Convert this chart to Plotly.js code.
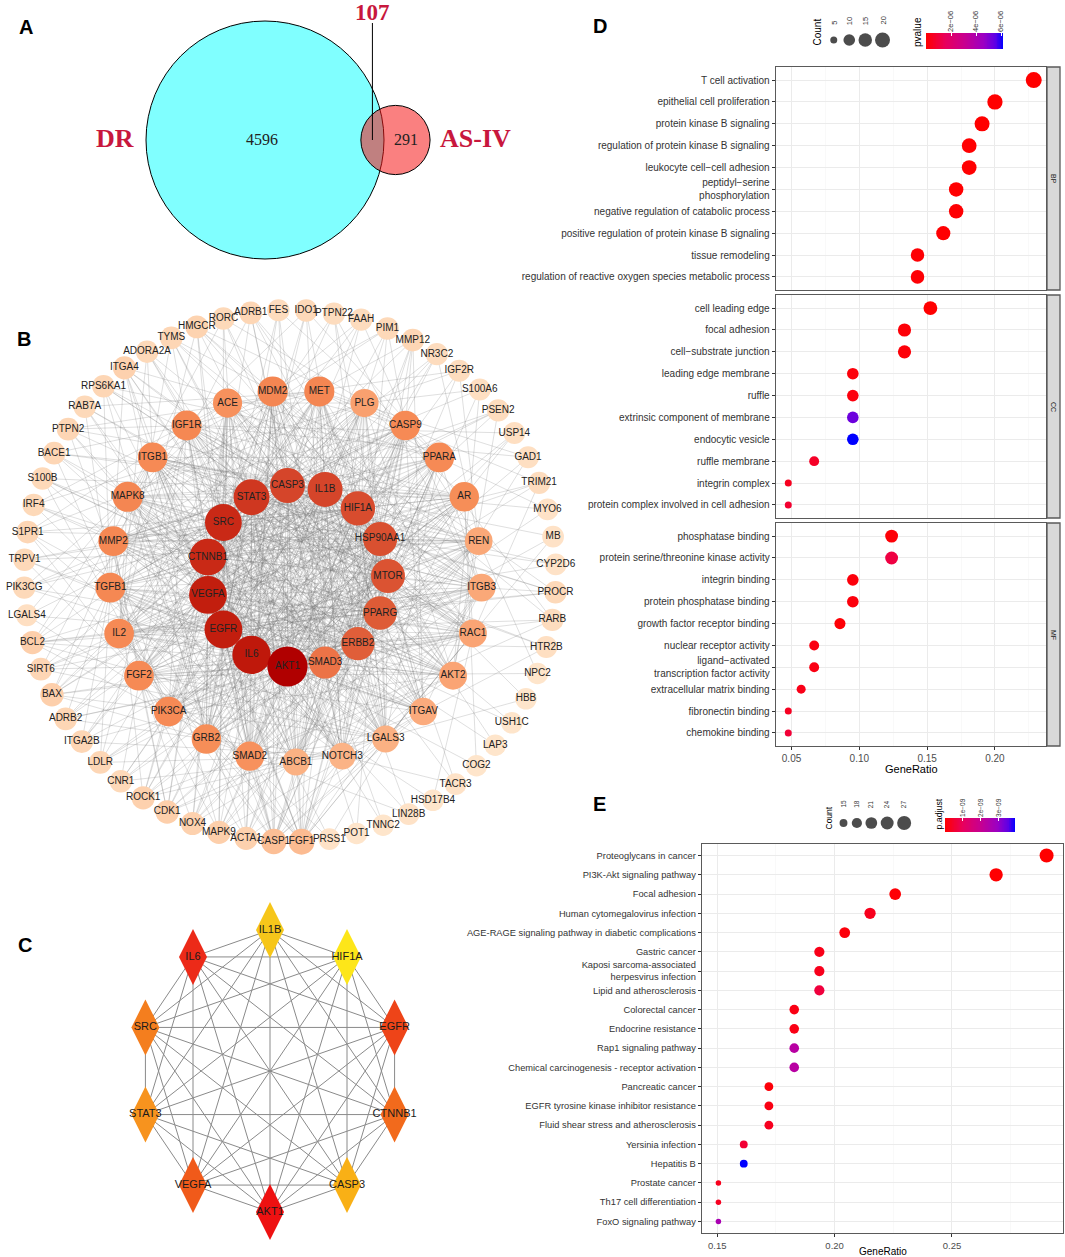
<!DOCTYPE html>
<html><head><meta charset="utf-8">
<script src="https://cdn.plot.ly/plotly-3.0.1.min.js"></script>
<style>html,body{margin:0;padding:0;background:#fff}#chart{width:1065px;height:1257px}</style>
</head><body><div id="chart"></div><script>
// ================= DATA =================
// Panel A – Venn diagram counts
const vennSets = ['DR', 'AS-IV'];
const vennOnly = [4596, 291];
const vennShared = 107;

// Panel B – PPI network: genes on three rings and their degree
const innerGenes = ['CASP3','IL1B','HIF1A','HSP90AA1','MTOR','PPARG','ERBB2','SMAD3','AKT1','IL6','EGFR','VEGFA','CTNNB1','SRC','STAT3'];
const innerDegree = [58,58,56,55,54,52,51,46,80,72,70,70,66,66,62];
const middleGenes = ['MET','PLG','CASP9','PPARA','AR','REN','ITGB3','RAC1','AKT2','ITGAV','LGALS3','NOTCH3','ABCB1','SMAD2','GRB2','PIK3CA','FGF2','IL2','TGFB1','MMP2','MAPK8','ITGB1','IGF1R','ACE','MDM2'];
const middleDegree = [38,30,36,36,35,28,28,29,29,27,25,24,25,34,35,36,36,36,37,37,38,36,37,34,38];
const outerGenes = ['ADRB1','FES','IDO1','PTPN22','FAAH','PIM1','MMP12','NR3C2','IGF2R','S100A6','PSEN2','USP14','GAD1','TRIM21','MYO6','MB','CYP2D6','PROCR','RARB','HTR2B','NPC2','HBB','USH1C','LAP3','COG2','TACR3','HSD17B4','LIN28B','TNNC2','POT1','PRSS1','FGF1','CASP1','ACTA1','MAPK9','NOX4','CDK1','ROCK1','CNR1','LDLR','ITGA2B','ADRB2','BAX','SIRT6','BCL2','LGALS4','PIK3CG','TRPV1','S1PR1','IRF4','S100B','BACE1','PTPN2','RAB7A','RPS6KA1','ITGA4','ADORA2A','TYMS','HMGCR','RORC'];
const outerDegree = [7,5,6,5,5,6,7,5,5,4,5,4,4,5,3,3,3,6,5,4,2,2,2,2,2,3,2,3,2,2,3,20,18,9,10,9,10,9,6,7,7,7,10,7,10,4,6,6,7,6,6,7,7,6,7,9,6,7,8,6];

// Panel C – hub genes and their rank (1 = top)
const hubGenes = ['IL1B','HIF1A','EGFR','CTNNB1','CASP3','AKT1','VEGFA','STAT3','SRC','IL6'];
const hubRank  = [9,10,3,5,8,1,4,7,6,2];

// Panel D – GO enrichment
const bpTerms = ['T cell activation','epithelial cell proliferation','protein kinase B signaling','regulation of protein kinase B signaling','leukocyte cell\u2212cell adhesion','peptidyl\u2212serine<br>phosphorylation','negative regulation of catabolic process','positive regulation of protein kinase B signaling','tissue remodeling','regulation of reactive oxygen species metabolic process'];
const bpRatio = [0.2286,0.2000,0.1905,0.1810,0.1810,0.1714,0.1714,0.1619,0.1429,0.1429];
const bpCount = [24,21,20,19,19,18,18,17,15,15];
const bpP     = [1.2e-10,3.5e-9,2.1e-9,8.7e-9,2.4e-8,1.6e-8,4.5e-8,2.8e-8,6.3e-8,9.1e-8];
const ccTerms = ['cell leading edge','focal adhesion','cell\u2212substrate junction','leading edge membrane','ruffle','extrinsic component of membrane','endocytic vesicle','ruffle membrane','integrin complex','protein complex involved in cell adhesion'];
const ccRatio = [0.1524,0.1333,0.1333,0.0952,0.0952,0.0952,0.0952,0.0667,0.0476,0.0476];
const ccCount = [16,14,14,10,10,10,10,7,5,5];
const ccP     = [2.0e-8,1.3e-7,1.4e-7,1.7e-7,2.2e-7,5.3e-6,6.16e-6,6.5e-7,5.2e-7,8.0e-7];
const mfTerms = ['phosphatase binding','protein serine/threonine kinase activity','integrin binding','protein phosphatase binding','growth factor receptor binding','nuclear receptor activity','ligand\u2212activated<br>transcription factor activity','extracellular matrix binding','fibronectin binding','chemokine binding'];
const mfRatio = [0.1238,0.1238,0.0952,0.0952,0.0857,0.0667,0.0667,0.0571,0.0476,0.0476];
const mfCount = [13,13,10,10,9,7,7,6,5,5];
const mfP     = [1.1e-7,1.1e-6,1.9e-7,2.0e-7,9.5e-8,3.2e-7,3.2e-7,4.0e-7,5.5e-7,9.0e-7];
const goFacets = ['BP','CC','MF'];
const dCountBreaks = [5,10,15,20];
const dPBreaks = [2e-6,4e-6,6e-6];
const dPBreakLabels = ['2e\u221206','4e\u221206','6e\u221206'];

// Panel E – KEGG enrichment
const keggTerms = ['Proteoglycans in cancer','PI3K-Akt signaling pathway','Focal adhesion','Human cytomegalovirus infection','AGE-RAGE signaling pathway in diabetic complications','Gastric cancer','Kaposi sarcoma-associated<br>herpesvirus infection','Lipid and atherosclerosis','Colorectal cancer','Endocrine resistance','Rap1 signaling pathway','Chemical carcinogenesis - receptor activation','Pancreatic cancer','EGFR tyrosine kinase inhibitor resistance','Fluid shear stress and atherosclerosis','Yersinia infection','Hepatitis B','Prostate cancer','Th17 cell differentiation','FoxO signaling pathway'];
const keggRatio = [0.2903,0.2688,0.2258,0.2151,0.2043,0.1935,0.1935,0.1935,0.1828,0.1828,0.1828,0.1828,0.1720,0.1720,0.1720,0.1613,0.1613,0.1505,0.1505,0.1505];
const keggCount = [27,25,21,20,19,18,18,18,17,17,17,17,16,16,16,15,15,14,14,14];
const keggPadj  = [1.5e-12,8e-12,6e-11,3.1e-10,1.2e-10,2.6e-10,3.0e-10,6.5e-10,2.0e-10,2.2e-10,2.3e-9,2.3e-9,1.0e-10,2.0e-10,3.3e-10,5.5e-10,3.9e-9,3.0e-10,3.4e-10,2.6e-9];
const eCountBreaks = [15,18,21,24,27];
const ePBreaks = [1e-9,2e-9,3e-9];
const ePBreakLabels = ['1e\u221209','2e\u221209','3e\u221209'];

// ================= LAYOUT HELPERS =================
const W = 1065, H = 1257;
const px = v => v / W, py = v => 1 - v / H;
const domX = (a, b) => [a / W, b / W];
const domY = (top, bottom) => [1 - bottom / H, 1 - top / H];
const FONT = 'Liberation Sans, Arial, Helvetica, sans-serif';
const SERIF = 'Liberation Serif, Times New Roman, serif';
const traces = [], shapes = [], annotations = [];
function ann(x, y, text, o) {
  annotations.push(Object.assign({xref:'paper', yref:'paper', x:px(x), y:py(y), text, showarrow:false,
    xanchor:'center', yanchor:'middle', font:{family:FONT, size:10, color:'#000'}}, o || {}));
}

// ---------- Panel letters ----------
[['A',26,27],['B',24,339],['C',25,945],['D',600,26],['E',599,804]].forEach(([t,x,y]) =>
  ann(x, y, '<b>'+t+'</b>', {font:{family:FONT, size:20, color:'#000'}}));

// ---------- Panel A: Venn ----------
const totA = vennOnly[0] + vennShared, totB = vennOnly[1] + vennShared;
const kV = 119 / Math.sqrt(totA);
const r1 = kV * Math.sqrt(totA), r2 = kV * Math.sqrt(totB);
function lens(d) {
  const a1 = r1*r1*Math.acos((d*d + r1*r1 - r2*r2) / (2*d*r1));
  const a2 = r2*r2*Math.acos((d*d + r2*r2 - r1*r1) / (2*d*r2));
  const a3 = 0.5*Math.sqrt((-d+r1+r2)*(d+r1-r2)*(d-r1+r2)*(d+r1+r2));
  return a1 + a2 - a3;
}
const target = vennShared * Math.PI * kV * kV;
let lo = r1 - r2 + 0.01, hi = r1 + r2 - 0.01;
for (let i = 0; i < 60; i++) { const m = (lo + hi) / 2; if (lens(m) > target) lo = m; else hi = m; }
const dV = (lo + hi) / 2;
const c1 = [265, 140], c2 = [265 + dV, 140];
shapes.push({type:'circle', xref:'x', yref:'y', x0:c1[0]-r1, x1:c1[0]+r1, y0:c1[1]-r1, y1:c1[1]+r1,
  fillcolor:'#80ffff', line:{color:'#000', width:1}, layer:'below'});
shapes.push({type:'circle', xref:'x', yref:'y', x0:c2[0]-r2, x1:c2[0]+r2, y0:c2[1]-r2, y1:c2[1]+r2,
  fillcolor:'rgba(246,20,20,0.54)', line:{color:'#000', width:1}, layer:'below'});
const lensX = ((c1[0] + r1) + (c2[0] - r2)) / 2;
shapes.push({type:'line', xref:'x', yref:'y', x0:lensX, x1:lensX, y0:23, y1:c1[1], line:{color:'#000', width:1}});
const vennRed = '#c8173d';
ann(lensX, 13, '<b>' + vennShared + '</b>', {font:{family:SERIF, size:23, color:vennRed}});
ann(c1[0] - r1 - 10, c1[1] - 1, '<b>' + vennSets[0] + '</b>', {xanchor:'right', font:{family:SERIF, size:26, color:vennRed}});
ann(c2[0] + r2 + 8, c2[1] - 1, '<b>' + vennSets[1] + '</b>', {xanchor:'left', font:{family:SERIF, size:26, color:vennRed}});
ann(c1[0] - 3, c1[1], String(vennOnly[0]), {font:{family:SERIF, size:16, color:'#222'}});
ann(((c1[0] + r1) + (c2[0] + r2)) / 2 - 1, c2[1], String(vennOnly[1]), {font:{family:SERIF, size:16, color:'#222'}});

// ---------- Panel B: network ----------
function ring(n, cx, cy, r, startDeg) {
  return Array.from({length:n}, (_, i) => {
    const t = (startDeg + i * 360 / n) * Math.PI / 180;
    return [cx + r * Math.sin(t), cy - r * Math.cos(t)];
  });
}
const pIn = ring(innerGenes.length, 297, 576, 91, -6);
const pMid = ring(middleGenes.length, 296, 576, 186, 7.2);
const pOut = ring(outerGenes.length, 290, 576, 266, -8.5);
const core = pIn.concat(pMid);
const edges = [];
for (let i = 0; i < pIn.length; i++) for (let j = i + 1; j < pIn.length; j++) edges.push([pIn[i], pIn[j]]);
for (let i = 0; i < pIn.length; i++) for (let j = 0; j < pMid.length; j++) edges.push([pIn[i], pMid[j]]);
for (let j = 0; j < pMid.length; j++) [3, 7, 11].forEach(s => edges.push([pMid[j], pMid[(j + s) % pMid.length]]));
for (let k = 0; k < pOut.length; k++) for (let m = 0; m < outerDegree[k]; m++) edges.push([pOut[k], core[(7 * k + 11 * m) % core.length]]);
const ex = [], ey = [];
edges.forEach(([a, b]) => { ex.push(a[0], b[0], null); ey.push(a[1], b[1], null); });
traces.push({type:'scatter', mode:'lines', x:ex, y:ey, xaxis:'x', yaxis:'y', hoverinfo:'skip',
  line:{color:'rgba(115,115,115,0.33)', width:0.7}});
const degMax = Math.max(...innerDegree);
const DEGCS = [[0,'#fee8d0'],[0.09,'#fdd3b0'],[0.32,'#fbae80'],[0.44,'#f68b55'],[0.57,'#ec7347'],[0.63,'#e05f39'],[0.72,'#d5452a'],[0.82,'#c92a16'],[0.89,'#c01a0c'],[1,'#b00000']];
const allPos = pOut.concat(pMid, pIn);
const allNames = outerGenes.concat(middleGenes, innerGenes);
const allDeg = outerDegree.concat(middleDegree, innerDegree);
// draw AKT1 last so it sits on top
const order = allNames.map((_, i) => i);
const akt = allNames.indexOf('AKT1'); order.splice(order.indexOf(akt), 1); order.push(akt);
traces.push({type:'scatter', mode:'markers+text', xaxis:'x', yaxis:'y', hoverinfo:'skip',
  x: order.map(i => allPos[i][0]), y: order.map(i => allPos[i][1]), text: order.map(i => allNames[i]),
  textposition:'middle center', textfont:{family:FONT, size:10, color:'#222'},
  marker:{size: order.map(i => 21 + 0.24 * allDeg[i]), color: order.map(i => allDeg[i]),
    colorscale:DEGCS, cmin:1, cmax:degMax, line:{width:0}, opacity:1}});

// ---------- Panel C: hub network ----------
const pHub = hubGenes.map((_, i) => {
  const t = i * 360 / hubGenes.length * Math.PI / 180;
  return [270 + 131 * Math.sin(t), 1071 - 141 * Math.cos(t)];
});
const hx = [], hy = [];
for (let i = 0; i < pHub.length; i++) for (let j = i + 1; j < pHub.length; j++) {
  hx.push(pHub[i][0], pHub[j][0], null); hy.push(pHub[i][1], pHub[j][1], null);
}
traces.push({type:'scatter', mode:'lines', x:hx, y:hy, xaxis:'x', yaxis:'y', hoverinfo:'skip',
  line:{color:'#8a8a8a', width:1}});
const HUBCS = [[0,'#ee1111'],[0.111,'#ec2a18'],[0.222,'#ee4418'],[0.333,'#f05a1a'],[0.444,'#f26a1c'],[0.556,'#f47e1e'],[0.667,'#f7931e'],[0.778,'#f9b016'],[0.889,'#f6c61a'],[1,'#fde619']];
traces.push({type:'scatter', mode:'markers+text', xaxis:'x', yaxis:'y', hoverinfo:'skip',
  x:pHub.map(p => p[0]), y:pHub.map(p => p[1]), text:hubGenes, textposition:'middle center',
  textfont:{family:FONT, size:11, color:'#1a1a1a'},
  marker:{symbol:'diamond-tall', size:40, color:hubRank, colorscale:HUBCS, cmin:1, cmax:hubGenes.length, line:{width:0}}});

// ---------- Dot-plot helpers ----------
const PCS = [[0,'#ff0000'],[0.25,'#e8005c'],[0.5,'#c8008f'],[0.75,'#9a00c4'],[0.9,'#5c00e6'],[1,'#0000ff']];
function sizeFn(counts, dMin, dSpan) {
  const mn = Math.min(...counts), mx = Math.max(...counts);
  return c => dMin + dSpan * Math.sqrt(Math.max(0, (c - mn) / (mx - mn)));
}
function expandRange(vals) {
  const mn = Math.min(...vals), mx = Math.max(...vals), s = mx - mn;
  return [mn - 0.05 * s, mx + 0.05 * s];
}
const axisLine = '#5a5a5a';
function xAx(dom, anchor, range, showLabels, tickSize) {
  return {domain:dom, anchor, range, tickmode:'linear', tick0:0, dtick:0.05, tickformat:'.2f',
    showgrid:true, gridcolor:'#ebebeb', gridwidth:1, zeroline:false,
    minor:{dtick:0.025, showgrid:true, gridcolor:'#f5f5f5', gridwidth:0.6},
    showline:true, mirror:true, linecolor:axisLine, linewidth:1.3,
    ticks: showLabels ? 'outside' : '', ticklen:3, tickcolor:'#333', showticklabels:showLabels,
    tickfont:{family:FONT, size:tickSize, color:'#4d4d4d'}};
}
function yAx(dom, anchor, cats, fontSize) {
  return {domain:dom, anchor, type:'category', categoryorder:'array', categoryarray:cats,
    range:[cats.length - 1 + 0.6, -0.6], showgrid:true, gridcolor:'#ebebeb', gridwidth:1, zeroline:false,
    showline:true, mirror:true, linecolor:axisLine, linewidth:1.3, ticks:'outside', ticklen:3, tickcolor:'#333',
    tickfont:{family:FONT, size:fontSize, color:'#333'}};
}

// ---------- Panel D ----------
const dAllRatio = bpRatio.concat(ccRatio, mfRatio);
const dAllCount = bpCount.concat(ccCount, mfCount);
const dAllP = bpP.concat(ccP, mfP);
const dRange = expandRange(dAllRatio);
const dSize = sizeFn(dAllCount, 7, 9);
const dPmin = Math.min(...dAllP), dPmax = Math.max(...dAllP);
const dFacetPx = [[67, 290], [295, 518], [523, 746]];
const dSets = [[bpTerms, bpRatio, bpCount, bpP], [ccTerms, ccRatio, ccCount, ccP], [mfTerms, mfRatio, mfCount, mfP]];
const layoutAxes = {};
dSets.forEach((s, k) => {
  const n = k + 2;
  layoutAxes['xaxis' + n] = xAx(domX(776, 1046), 'y' + n, dRange, k === 2, 10);
  layoutAxes['yaxis' + n] = yAx(domY(dFacetPx[k][0], dFacetPx[k][1]), 'x' + n, s[0], 10);
  traces.push({type:'scatter', mode:'markers', xaxis:'x' + n, yaxis:'y' + n, x:s[1], y:s[0], hoverinfo:'skip',
    marker:{size:s[2].map(dSize), color:s[3], colorscale:PCS, cmin:dPmin, cmax:dPmax, line:{width:0}, opacity:1}});
  shapes.push({type:'rect', xref:'paper', yref:'paper', x0:px(1047), x1:px(1060),
    y0:py(dFacetPx[k][1]), y1:py(dFacetPx[k][0]), fillcolor:'#d9d9d9', line:{color:axisLine, width:1.3}});
  ann(1053.5, (dFacetPx[k][0] + dFacetPx[k][1]) / 2, goFacets[k], {textangle:90, font:{family:FONT, size:7, color:'#1a1a1a'}});
});
ann(911, 769, 'GeneRatio', {font:{family:FONT, size:11, color:'#000'}});

// D legends
function countLegend(breaks, sizeF, startX, minKey, pad) {
  let cur = startX; const xs = [];
  breaks.forEach(b => { const w = Math.max(minKey, sizeF(b) + pad); xs.push(cur + w / 2); cur += w; });
  return xs;
}
const dLegX = countLegend(dCountBreaks, dSize, 826, 15.5, 3);
traces.push({type:'scatter', mode:'markers', xaxis:'x', yaxis:'y', hoverinfo:'skip',
  x:dLegX, y:dCountBreaks.map(() => 40), marker:{size:dCountBreaks.map(dSize), color:'#000', line:{width:0}}});
dCountBreaks.forEach((b, i) => ann(dLegX[i], 27, String(b), {textangle:-90, yanchor:'bottom', font:{family:FONT, size:7.5, color:'#333'}}));
ann(817, 48, 'Count', {textangle:-90, yanchor:'bottom', font:{family:FONT, size:10, color:'#000'}});
ann(917, 49, 'pvalue', {textangle:-90, yanchor:'bottom', font:{family:FONT, size:10, color:'#000'}});
function gradient(xa, ya, vmin, vmax) {
  const g = []; for (let i = 0; i <= 100; i++) g.push(vmin + (vmax - vmin) * i / 100);
  traces.push({type:'heatmap', xaxis:xa, yaxis:ya, x:g, y:[0], z:[g], zmin:vmin, zmax:vmax, colorscale:PCS,
    showscale:false, hoverinfo:'skip'});
}
gradient('x6', 'y6', dPmin, dPmax);
layoutAxes.xaxis6 = {domain:domX(926, 1003), anchor:'y6', range:[dPmin, dPmax], side:'top', tickmode:'array',
  tickvals:dPBreaks, ticktext:dPBreakLabels, tickangle:-90, ticks:'inside', ticklen:3, tickcolor:'#fff', tickwidth:1,
  showgrid:false, zeroline:false, showline:false, tickfont:{family:FONT, size:7.5, color:'#333'}};
layoutAxes.yaxis6 = {domain:domY(33, 49), anchor:'x6', range:[-0.5, 0.5], visible:false};

// ---------- Panel E ----------
const eRange = expandRange(keggRatio);
const eSize = sizeFn(keggCount, 5.5, 8.5);
const ePmin = Math.min(...keggPadj), ePmax = Math.max(...keggPadj);
layoutAxes.xaxis5 = xAx(domX(702, 1063), 'y5', eRange, true, 9.5);
layoutAxes.yaxis5 = yAx(domY(844, 1233), 'x5', keggTerms, 9.3);
traces.push({type:'scatter', mode:'markers', xaxis:'x5', yaxis:'y5', x:keggRatio, y:keggTerms, hoverinfo:'skip',
  marker:{size:keggCount.map(eSize), color:keggPadj, colorscale:PCS, cmin:ePmin, cmax:ePmax, line:{width:0}, opacity:1}});
ann(883, 1251, 'GeneRatio', {font:{family:FONT, size:10, color:'#000'}});
const eLegX = countLegend(eCountBreaks, eSize, 837, 13, 3.5);
traces.push({type:'scatter', mode:'markers', xaxis:'x', yaxis:'y', hoverinfo:'skip',
  x:eLegX, y:eCountBreaks.map(() => 823), marker:{size:eCountBreaks.map(eSize), color:'#000', line:{width:0}}});
eCountBreaks.forEach((b, i) => ann(eLegX[i], 810, String(b), {textangle:-90, yanchor:'bottom', font:{family:FONT, size:6.5, color:'#333'}}));
ann(828, 832, 'Count', {textangle:-90, yanchor:'bottom', font:{family:FONT, size:8.5, color:'#000'}});
ann(938, 832, 'p.adjust', {textangle:-90, yanchor:'bottom', font:{family:FONT, size:8.8, color:'#000'}});
gradient('x7', 'y7', ePmin, ePmax);
layoutAxes.xaxis7 = {domain:domX(945, 1015), anchor:'y7', range:[ePmin, ePmax], side:'top', tickmode:'array',
  tickvals:ePBreaks, ticktext:ePBreakLabels, tickangle:-90, ticks:'inside', ticklen:3, tickcolor:'#fff', tickwidth:1,
  showgrid:false, zeroline:false, showline:false, tickfont:{family:FONT, size:6.5, color:'#333'}};
layoutAxes.yaxis7 = {domain:domY(818, 832), anchor:'x7', range:[-0.5, 0.5], visible:false};

// ================= RENDER =================
const layout = Object.assign({
  width:W, height:H, margin:{l:0, r:0, t:0, b:0}, paper_bgcolor:'#fff', plot_bgcolor:'rgba(0,0,0,0)',
  showlegend:false, font:{family:FONT},
  xaxis:{domain:[0, 1], range:[0, W], visible:false, fixedrange:true},
  yaxis:{domain:[0, 1], range:[H, 0], visible:false, fixedrange:true},
  shapes, annotations
}, layoutAxes);
Plotly.newPlot('chart', traces, layout, {displayModeBar:false, staticPlot:true});
</script></body></html>
